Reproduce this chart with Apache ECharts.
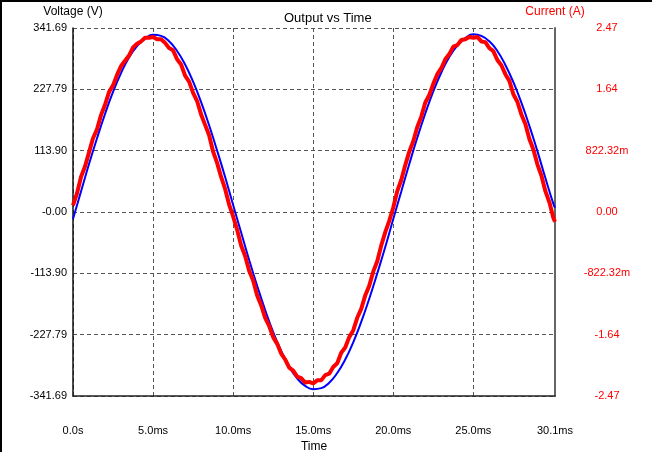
<!DOCTYPE html>
<html>
<head>
<meta charset="utf-8">
<script src="https://cdn.jsdelivr.net/npm/echarts@6/dist/echarts.min.js"></script>
<style>
html,body{margin:0;padding:0;background:#fff;}
#chart{width:652px;height:466px;}
</style>
</head>
<body>
<div id="chart"></div>
<script>
// ---- data ----
const timeBlue = [0,0.5,1,1.5,2,2.5,3,3.5,4,4.5,5,5.5,6,6.5,7,7.5,8,8.5,9,9.5,10,10.5,11,11.5,12,12.5,13,13.5,14,14.5,15,15.5,16,16.5,17,17.5,18,18.5,19,19.5,20,20.5,21,21.5,22,22.5,23,23.5,24,24.5,25,25.5,26,26.5,27,27.5,28,28.5,29,29.5,30,30.1];
const voltage = [-13,38,89,137,182,223,258,287,308,322,329,327,317,299,274,242,204,161,114,65,13,-38,-89,-137,-182,-223,-258,-287,-309,-323,-329,-327,-317,-299,-274,-242,-204,-161,-114,-65,-13,38,89,138,183,224,259,288,309,323,330,327,317,299,273,241,203,160,113,63,15,8];

const timeRed = [0,0.25,0.5,0.75,1,1.25,1.5,1.75,2,2.25,2.5,2.75,3,3.25,3.5,3.75,4,4.25,4.5,4.75,5,5.25,5.5,5.75,6,6.25,6.5,6.75,7,7.25,7.5,7.75,8,8.25,8.5,8.75,9,9.25,9.5,9.75,10,10.25,10.5,10.75,11,11.25,11.5,11.75,12,12.25,12.5,12.75,13,13.25,13.5,13.75,14,14.25,14.5,14.75,15,15.25,15.5,15.75,16,16.25,16.5,16.75,17,17.25,17.5,17.75,18,18.25,18.5,18.75,19,19.25,19.5,19.75,20,20.25,20.5,20.75,21,21.25,21.5,21.75,22,22.25,22.5,22.75,23,23.25,23.5,23.75,24,24.25,24.5,24.75,25,25.25,25.5,25.75,26,26.25,26.5,26.75,27,27.25,27.5,27.75,28,28.25,28.5,28.75,29,29.25,29.5,29.75,30,30.1];
const current = [0.09,0.25,0.47,0.61,0.80,0.99,1.11,1.30,1.44,1.61,1.70,1.84,1.96,2.03,2.10,2.21,2.26,2.29,2.34,2.34,2.35,2.32,2.32,2.27,2.20,2.17,2.05,1.98,1.83,1.75,1.60,1.49,1.31,1.17,1.03,0.81,0.66,0.47,0.31,0.10,-0.06,-0.24,-0.45,-0.59,-0.79,-0.92,-1.12,-1.25,-1.42,-1.53,-1.68,-1.77,-1.90,-1.98,-2.09,-2.13,-2.21,-2.23,-2.29,-2.28,-2.30,-2.26,-2.26,-2.19,-2.17,-2.08,-2.03,-1.89,-1.82,-1.68,-1.59,-1.42,-1.30,-1.12,-0.99,-0.80,-0.66,-0.45,-0.27,-0.12,0.06,0.28,0.43,0.63,0.81,0.95,1.14,1.28,1.47,1.57,1.72,1.85,1.93,2.05,2.12,2.22,2.24,2.31,2.32,2.35,2.34,2.35,2.29,2.28,2.20,2.16,2.04,1.97,1.85,1.76,1.58,1.48,1.31,1.18,0.98,0.84,0.64,0.49,0.28,0.13,-0.08,-0.13];

const xTickValues = [0,5,10,15,20,25,30.1];
const xTickLabels = ['0.0s','5.0ms','10.0ms','15.0ms','20.0ms','25.0ms','30.1ms'];
const vLimit = 341.69;
const vTickLabels = ['-341.69','-227.79','-113.90','-0.00','113.90','227.79','341.69'];
const iLimit = 2.47;
const iTickLabels = ['-2.47','-1.64','-822.32m','0.00','822.32m','1.64','2.47'];

// ---- chart ----
const FONT = 'Liberation Sans, Arial, sans-serif';
const chart = echarts.init(document.getElementById('chart'), null, {renderer:'canvas'});
const vStep = vLimit / 3, iStep = iLimit / 3;
function idx(v, min, step){ return Math.round((v - min) / step); }

const option = {
  animation: false,
  backgroundColor: '#ffffff',
  title: {
    text: 'Output vs Time',
    left: 279, top: 7,
    textStyle: {fontFamily: FONT, fontSize: 13, fontWeight: 'normal', color: '#000'}
  },
  grid: {left: 73, right: 97, top: 28, bottom: 70, containLabel: false},
  xAxis: {
    type: 'value', min: 0, max: 30.1,
    name: 'Time', nameLocation: 'middle', nameGap: 43,
    nameTextStyle: {fontFamily: FONT, fontSize: 12, color: '#000'},
    axisLine: {show: true, onZero: false, lineStyle: {color: '#222', width: 1.5}},
    axisTick: {show: false, customValues: xTickValues},
    axisLabel: {
      customValues: xTickValues, margin: 29,
      fontFamily: FONT, fontSize: 11, color: '#000',
      formatter: function(v){ const i = xTickValues.indexOf(v); return i >= 0 ? xTickLabels[i] : ''; }
    },
    splitLine: {show: true, lineStyle: {color: '#555', type: [4,3], width: 1}}
  },
  yAxis: [
    {
      type: 'value', position: 'left', min: -vLimit, max: vLimit, interval: vStep,
      name: 'Voltage (V)', nameLocation: 'end', nameGap: 10,
      nameTextStyle: {fontFamily: FONT, fontSize: 12, color: '#000'},
      axisLine: {show: true, onZero: false, lineStyle: {color: '#111', width: 1.5}},
      axisTick: {show: false},
      axisLabel: {
        margin: 6, fontFamily: FONT, fontSize: 11, color: '#000',
        formatter: function(v){ return vTickLabels[idx(v, -vLimit, vStep)] || ''; }
      },
      splitLine: {show: true, lineStyle: {color: '#555', type: [4,3], width: 1}}
    },
    {
      type: 'value', position: 'right', min: -iLimit, max: iLimit, interval: iStep,
      name: 'Current (A)', nameLocation: 'end', nameGap: 10,
      nameTextStyle: {fontFamily: FONT, fontSize: 12, color: '#ff0000'},
      axisLine: {show: true, onZero: false, lineStyle: {color: '#666', width: 2}},
      axisTick: {show: false},
      axisLabel: {
        margin: 52, align: 'center', fontFamily: FONT, fontSize: 11, color: '#ff0000',
        formatter: function(v){ return iTickLabels[idx(v, -iLimit, iStep)] || ''; }
      },
      splitLine: {show: false}
    }
  ],
  series: [
    {
      name: 'Voltage', type: 'line', yAxisIndex: 0, showSymbol: false, smooth: true,
      data: timeBlue.map((t, i) => [t, voltage[i]]),
      lineStyle: {color: '#0000ff', width: 2},
      z: 3
    },
    {
      name: 'Current', type: 'line', yAxisIndex: 1, showSymbol: false,
      data: timeRed.map((t, i) => [t, current[i]]),
      lineStyle: {color: '#ff0000', width: 4},
      z: 4
    }
  ],
  graphic: [
    {type: 'line', shape: {x1: 0, y1: 1, x2: 652, y2: 1}, style: {stroke: '#000', lineWidth: 2}},
    {type: 'line', shape: {x1: 1, y1: 0, x2: 1, y2: 452}, style: {stroke: '#000', lineWidth: 2}}
  ]
};
chart.setOption(option);
</script>
</body>
</html>
